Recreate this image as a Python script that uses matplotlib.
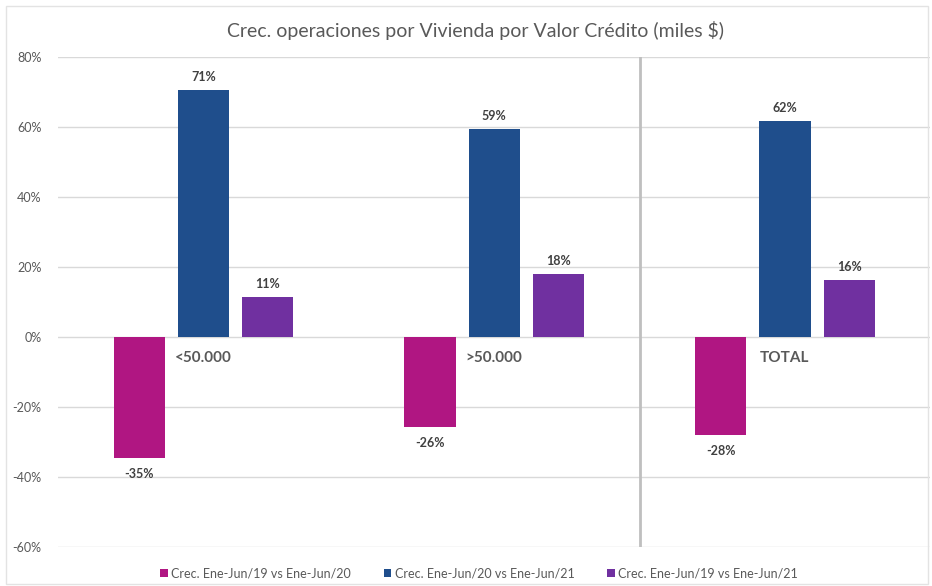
import numpy as np
import matplotlib.pyplot as plt
from matplotlib.patches import Rectangle

categories = ['<50.000', '>50.000', 'TOTAL']
series_names = ['Crec. Ene-Jun/19 vs Ene-Jun/20',
                'Crec. Ene-Jun/20 vs Ene-Jun/21',
                'Crec. Ene-Jun/19 vs Ene-Jun/21']
crec_19_20 = [-34.6, -25.7, -28.0]
crec_20_21 = [70.6, 59.4, 61.7]
crec_19_21 = [11.4, 18.0, 16.3]
colors = ['#B01682', '#1F4E8C', '#7030A0']

plt.rcParams['font.family'] = ['Lato', 'DejaVu Sans']

fig = plt.figure(figsize=(9.32, 5.86), dpi=100)
fig.patches.append(Rectangle((0.006, 0.004), 0.99, 0.985, transform=fig.transFigure,
                             fill=False, edgecolor='#E3E3E3', linewidth=1))
ax = fig.add_axes([0.0622, 0.0666, 0.936, 0.8361])

x = np.arange(len(categories))
pitch = 0.2207
width = 0.176
all_series = [crec_19_20, crec_20_21, crec_19_21]

for i, (vals, name, col) in enumerate(zip(all_series, series_names, colors)):
    pos = x + (i - 1) * pitch
    bars = ax.bar(pos, vals, width=width, color=col, label=name, zorder=3)
    for b, v in zip(bars, vals):
        off = 5 if v >= 0 else -7
        ax.annotate(f'{v:.0f}%', (b.get_x() + b.get_width() / 2, v),
                    xytext=(0, off), textcoords='offset points',
                    ha='center', va='bottom' if v >= 0 else 'top',
                    fontsize=9, fontweight='bold', color='#404040')

# category labels just below zero line
for xi, cat in zip(x, categories):
    ax.annotate(cat, (xi, 0), xytext=(0, -10), textcoords='offset points',
                ha='center', va='top', fontsize=11, fontweight='bold', color='#595959')

ax.axvline(1.5, color='#BFBFBF', linewidth=2, zorder=2)

ax.set_xlim(-0.5, 2.5)
ax.set_ylim(-60, 80)
ax.set_yticks(np.arange(-60, 81, 20))
ax.set_yticklabels([f'{t}%' for t in range(-60, 81, 20)], fontsize=9, color='#595959')
ax.set_xticks([])
ax.tick_params(axis='y', length=0, pad=12)
ax.grid(axis='y', color='#D9D9D9', linewidth=1, zorder=0)
for s in ax.spines.values():
    s.set_visible(False)

fig.text(0.51, 0.948, 'Crec. operaciones por Vivienda por Valor Crédito (miles $)',
         ha='center', va='center', fontsize=14, color='#595959')

fig.legend(loc='center', bbox_to_anchor=(0.514, 0.022), ncol=3, frameon=False,
           fontsize=9, handlelength=0.6, handleheight=0.6, handletextpad=0.3,
           columnspacing=2.6, labelcolor='#595959')

fig.savefig('out.png', dpi=100)
